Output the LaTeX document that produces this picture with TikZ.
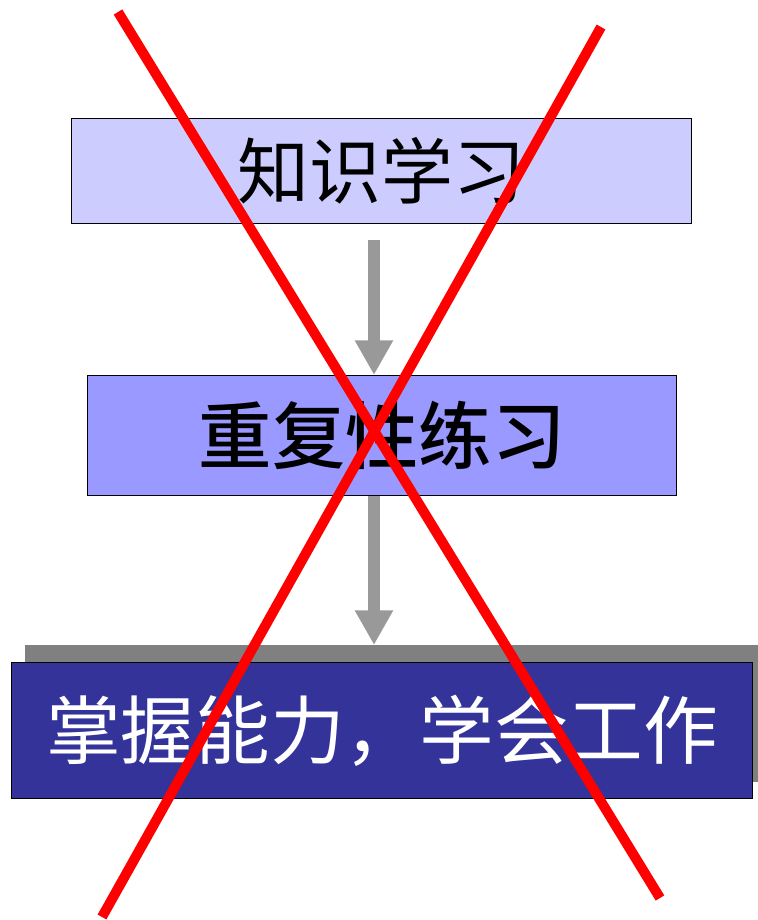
\documentclass[tikz,border=0pt]{standalone}
\usepackage{fontspec}
\newfontfamily\cjk{Noto Sans CJK SC}
\newfontfamily\cjkmed{Noto Sans CJK SC Medium}
\usetikzlibrary{arrows.meta}
\definecolor{boxA}{HTML}{CCCCFF}
\definecolor{boxB}{HTML}{9999FF}
\definecolor{boxC}{HTML}{333399}
\definecolor{arrgray}{HTML}{999999}
\definecolor{shadowgray}{HTML}{808080}
\definecolor{crossred}{HTML}{FF0000}
\tikzset{
  box/.style={draw=black, line width=1pt, inner sep=0pt, anchor=north west},
  arr/.style={draw=arrgray, line width=9pt, -{Triangle[width=27pt,length=26pt]}},
  cross/.style={draw=crossred, line width=7.5pt}
}
\begin{document}
\begin{tikzpicture}[x=0.75pt,y=-0.75pt]
\useasboundingbox (0,0) rectangle (757,920);
% boxes
\node[box, fill=boxA, minimum width=465pt, minimum height=78.75pt] (b1) at (71,118)
  {\cjk\fontsize{54pt}{60pt}\selectfont 知识学习};
\node[box, fill=boxB, minimum width=441.75pt, minimum height=90pt] (b2) at (87,375)
  {\cjkmed\fontsize{55pt}{60pt}\selectfont 重复性练习};
\node[fill=shadowgray, inner sep=0pt, anchor=north west, minimum width=556pt, minimum height=102.75pt] (sh) at (25,645) {};
\node[box, fill=boxC, minimum width=555.75pt, minimum height=102pt, text=white] (b3) at (11,662)
  {\cjk\fontsize{56pt}{60pt}\selectfont 掌握能力，学会工作};
% arrows
\coordinate (ax) at (374,0);
\draw[arr, shorten <=12pt] (b1.south -| ax) -- (b2.north -| ax);
\draw[arr] (b2.south -| ax) -- (sh.north -| ax);
% cross
\coordinate (c1a) at (118,12);
\coordinate (c1b) at (660,898);
\coordinate (c2a) at (601,27);
\coordinate (c2b) at (102,917);
\draw[cross] (c1a) -- (c1b);
\draw[cross] (c2a) -- (c2b);
\end{tikzpicture}
\end{document}
